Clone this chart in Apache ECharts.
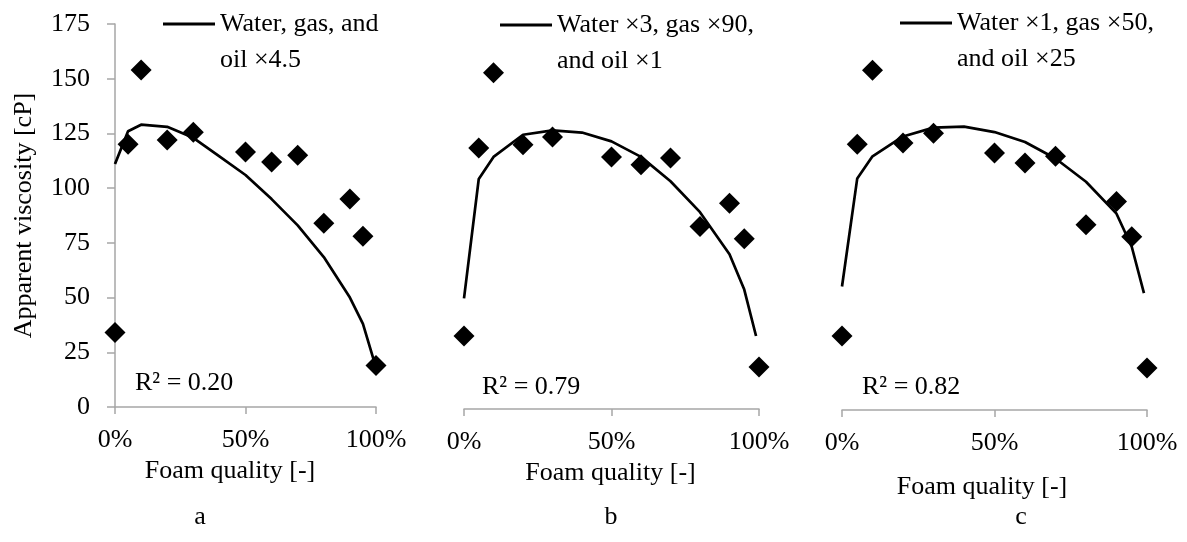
<!DOCTYPE html>
<html>
<head>
<meta charset="utf-8">
<script src="https://cdn.jsdelivr.net/npm/echarts@6/dist/echarts.min.js"></script>
<style>
  html, body { margin: 0; background: #fff; }
  #chart { width: 1187px; height: 542px; }
</style>
</head>
<body>
<div id="chart"></div>
<script>
// measured points (foam quality in %)
const foamQuality = [0, 5, 10, 20, 30, 50, 60, 70, 80, 90, 95, 100];
const viscosityA = [34, 120, 154, 122, 125.5, 116.5, 112, 115, 84, 95, 78, 19];
const viscosityB = [33, 118, 152, 119.5, 123, 114, 110.5, 113.5, 82.5, 93, 77, 19];
const viscosityC = [33.5, 120.5, 154, 121, 125.5, 116.5, 112, 115, 84, 94.5, 78.5, 19];

// model curves
const fitQuality = [0, 5, 10, 20, 30, 40, 50, 60, 70, 80, 90, 95, 99];
const fitA = [111, 126, 129, 128, 123, 114.5, 106, 95, 83, 68.5, 50, 38, 22];
const fitB = [50, 104, 114, 124, 126, 125, 121, 114, 103, 89, 70, 54, 33];
const fitC = [56, 105, 115, 124, 128, 128.5, 126, 121.5, 114, 103.5, 89, 74, 53];

const fitNames = ['Water, gas, and\noil ×4.5', 'Water ×3, gas ×90,\nand oil ×1', 'Water ×1, gas ×50,\nand oil ×25'];
const r2Labels = ['R² = 0.20', 'R² = 0.79', 'R² = 0.82'];
const panelLabels = ['a', 'b', 'c'];
const yTicks = { min: 0, max: 175, interval: 25 };
const xTicks = { min: 0, max: 100, interval: 50 };

const viscosity = [viscosityA, viscosityB, viscosityC];
const fits = [fitA, fitB, fitC];

// layout
const FONT = '"Liberation Serif", "Times New Roman", serif';
const AXIS_GRAY = '#a6a6a6';
const grids = [
  { left: 115, top: 24, width: 261, height: 383 },
  { left: 464, top: 22, width: 295, height: 387 },
  { left: 842, top: 24, width: 305, height: 386 },
];
const xNameGap = [40, 38, 64];
const xNamePad = [[0, 31, 0, 0], [0, 2, 0, 0], [0, 25, 0, 0]];
const legendPos = [[163, 24], [500, 25], [900, 23]];
const r2Pos = [[135, 383], [482, 387], [862, 387]];
const letterPos = [[200, 517], [611, 517], [1021, 517]];

const zip = (xs, ys) => xs.map((x, i) => [x, ys[i]]);

const chart = echarts.init(document.getElementById('chart'));

const option = {
  animation: false,
  backgroundColor: '#fff',
  textStyle: { fontFamily: FONT, color: '#000' },
  grid: grids,
  xAxis: grids.map((g, i) => ({
    type: 'value',
    gridIndex: i,
    min: xTicks.min,
    max: xTicks.max,
    interval: xTicks.interval,
    axisLine: { lineStyle: { color: AXIS_GRAY, width: 1.5 } },
    axisTick: { show: true, length: 7, lineStyle: { color: AXIS_GRAY, width: 1.5 } },
    splitLine: { show: false },
    axisLabel: { formatter: '{value}%', fontSize: 26, fontFamily: FONT, color: '#000', margin: 20 },
    name: 'Foam quality [-]',
    nameLocation: 'middle',
    nameGap: xNameGap[i],
    nameTextStyle: { fontSize: 26, fontFamily: FONT, color: '#000', padding: xNamePad[i] },
  })),
  yAxis: grids.map((g, i) => ({
    type: 'value',
    gridIndex: i,
    min: yTicks.min,
    max: yTicks.max,
    interval: yTicks.interval,
    show: i === 0,
    axisLine: { show: true, lineStyle: { color: AXIS_GRAY, width: 1.5 } },
    axisTick: { show: true, length: 8, lineStyle: { color: AXIS_GRAY, width: 1.5 } },
    splitLine: { show: false },
    axisLabel: { fontSize: 26, fontFamily: FONT, color: '#000', margin: 25 },
    name: i === 0 ? 'Apparent viscosity [cP]' : '',
    nameLocation: 'middle',
    nameGap: 78,
    nameTextStyle: { fontSize: 26, fontFamily: FONT, color: '#000' },
  })),
  // a blank first line keeps the line icon level with the first text line
  legend: fitNames.map((name, i) => ({
    data: [name],
    left: legendPos[i][0],
    top: legendPos[i][1] - 54,
    padding: 0,
    icon: 'rect',
    itemWidth: 52,
    itemHeight: 3,
    selectedMode: false,
    formatter: (n) => '\n' + n,
    itemStyle: { color: '#000' },
    textStyle: { fontSize: 26, fontFamily: FONT, color: '#000', lineHeight: 36 },
  })),
  series: [
    ...viscosity.map((vals, i) => ({
      type: 'scatter',
      xAxisIndex: i,
      yAxisIndex: i,
      data: zip(foamQuality, vals),
      symbol: 'diamond',
      symbolSize: 21,
      itemStyle: { color: '#000', opacity: 1 },
      clip: false,
      z: 3,
    })),
    ...fits.map((vals, i) => ({
      type: 'line',
      name: fitNames[i],
      xAxisIndex: i,
      yAxisIndex: i,
      data: zip(fitQuality, vals),
      symbol: 'none',
      color: '#000',
      lineStyle: { color: '#000', width: 2.7 },
      z: 2,
    })),
  ],
  graphic: [
    ...r2Labels.map((t, i) => ({
      type: 'text',
      x: r2Pos[i][0],
      y: r2Pos[i][1],
      style: { text: t, font: '26px ' + FONT, fill: '#000', verticalAlign: 'middle' },
    })),
    ...panelLabels.map((t, i) => ({
      type: 'text',
      x: letterPos[i][0],
      y: letterPos[i][1],
      style: { text: t, font: '26px ' + FONT, fill: '#000', align: 'center', verticalAlign: 'middle' },
    })),
  ],
};

chart.setOption(option);
</script>
</body>
</html>
